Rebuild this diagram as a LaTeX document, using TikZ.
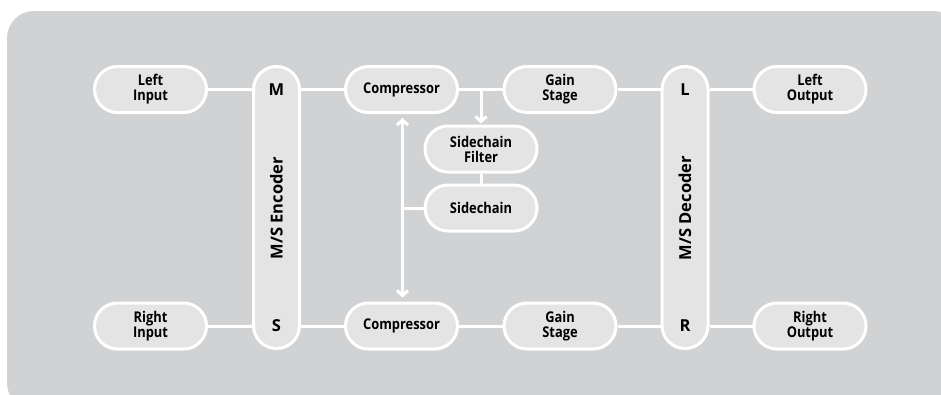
\documentclass[tikz,border=0pt]{standalone}
\usepackage{fontspec}
\setmainfont{Open Sans}
\newfontfamily\boxfont[FakeStretch=0.87]{Open Sans}
\usetikzlibrary{arrows.meta,calc}
\definecolor{bggray}{RGB}{209,210,212}
\definecolor{boxfill}{RGB}{228,228,228}
\tikzset{
  pill/.style={draw=white, line width=3pt, fill=boxfill, rounded corners=22.9pt,
    minimum width=112pt, minimum height=46pt, inner sep=0pt, align=center,
    font=\boxfont\bfseries\fontsize{14.8pt}{15pt}\selectfont},
  bar/.style={draw=white, line width=3pt, fill=boxfill, rounded corners=22.9pt,
    minimum width=46pt, minimum height=282pt, inner sep=0pt},
  barlabel/.style={inner sep=0pt, font=\bfseries\fontsize{16.5pt}{18pt}\selectfont},
  wire/.style={draw=white, line width=3pt},
  arr/.style={wire, -{Straight Barb[length=5pt,width=11pt]}},
  darr/.style={wire, {Straight Barb[length=5pt,width=11pt]}-{Straight Barb[length=5pt,width=11pt]}}
}
\begin{document}
\begin{tikzpicture}[x=1pt,y=-1pt]
\useasboundingbox (0,0) rectangle (941,394);
\fill[white] (0,0) rectangle (941,394);
\fill[bggray, rounded corners=27pt] (7,11) rectangle (960,410);

% bars
\node[bar] (enc) at (276.5,207.5) {};
\node[bar] (dec) at (685,207.5) {};
\node[barlabel] (M) at (276.5,89.5) {M};
\node[barlabel] (S) at (276.5,326) {S};
\node[barlabel] (L) at (685,89.5) {L};
\node[barlabel] (R) at (685,326) {R};
\node[barlabel, rotate=90] (enct) at (276.5,208) {M/S Encoder};
\node[barlabel, rotate=90] (dect) at (685,208) {M/S Decoder};

% boxes
\node[pill] (lin) at (150.5,89.5) {Left\\Input};
\node[pill] (rin) at (150.5,326) {Right\\Input};
\node[pill] (comp1) at (401.5,89.5) {Compressor};
\node[pill] (comp2) at (401.5,326) {Compressor};
\node[pill] (gain1) at (560,89.5) {Gain\\Stage};
\node[pill] (gain2) at (560,326) {Gain\\Stage};
\node[pill] (scf) at (481,149) {Sidechain\\Filter};
\node[pill] (sc) at (481,208) {Sidechain};
\node[pill] (lout) at (810,89.5) {Left\\Output};
\node[pill] (rout) at (810,326) {Right\\Output};

% connectors
\draw[wire] (lin.east) -- (lin.east -| enc.west);
\draw[wire] (rin.east) -- (rin.east -| enc.west);
\draw[wire] (comp1.west -| enc.east) -- (comp1.west);
\draw[wire] (comp2.west -| enc.east) -- (comp2.west);
\draw[wire] (comp1.east) -- (gain1.west);
\draw[wire] (comp2.east) -- (gain2.west);
\draw[wire] (gain1.east) -- (gain1.east -| dec.west);
\draw[wire] (gain2.east) -- (gain2.east -| dec.west);
\draw[wire] (lout.west -| dec.east) -- (lout.west);
\draw[wire] (rout.west -| dec.east) -- (rout.west);
\coordinate (tap) at (scf.north |- comp1.east);
\draw[arr, shorten >=1pt] (tap) -- (scf.north);
\draw[wire] (scf.south) -- (sc.north);
\coordinate (top) at ([xshift=1pt]comp1.south);
\coordinate (bot) at ([xshift=1pt]comp2.north);
\draw[darr, shorten >=4pt, shorten <=4pt] (top) -- (bot);
\draw[wire] (sc.west) -- (sc.west -| top);
\end{tikzpicture}
\end{document}
